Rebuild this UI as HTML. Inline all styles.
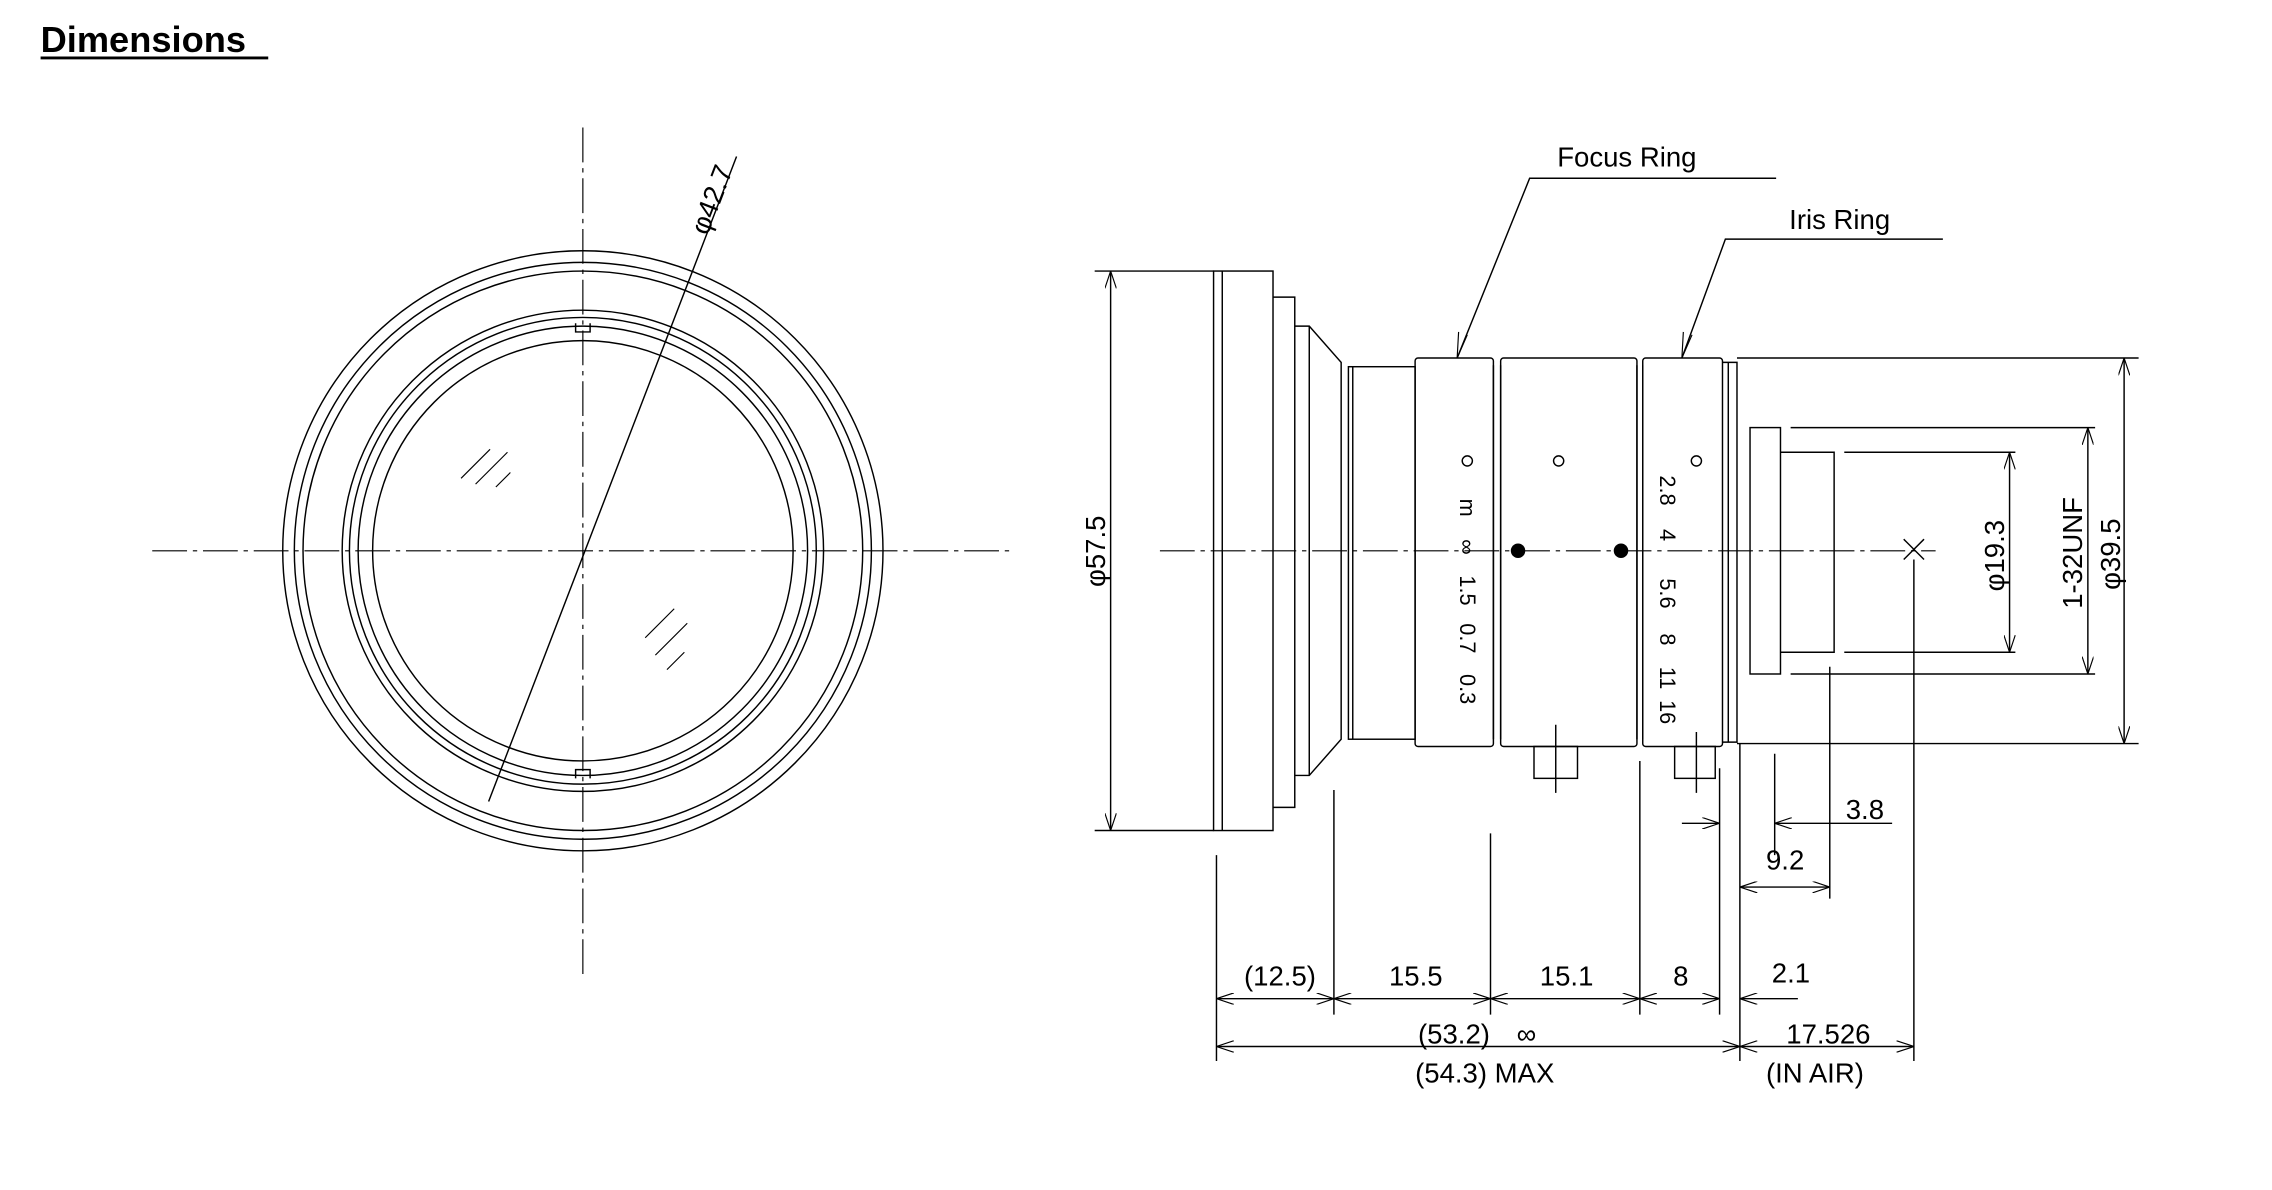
<!DOCTYPE html>
<html><head><meta charset="utf-8"><style>
html,body{margin:0;padding:0;background:#fff;}
svg{display:block}
text{font-family:"Liberation Sans",sans-serif;fill:#000}
.d{font-family:"Liberation Sans Narrow","Liberation Sans",sans-serif;font-size:19px}
</style></head><body>
<svg width="2272" height="1190" viewBox="0 0 1567 821" preserveAspectRatio="none" xmlns="http://www.w3.org/2000/svg">
<defs><marker id="a" viewBox="0 0 12 8" refX="12" refY="4" markerWidth="12" markerHeight="8" orient="auto-start-reverse" markerUnits="userSpaceOnUse"><path d="M0,0 L12,4 L0,8" fill="none" stroke="#000" stroke-width="0.8"/></marker></defs>
<text x="28" y="36" font-size="25" font-weight="bold">Dimensions</text>
<line x1="28" y1="40" x2="185" y2="40" stroke="#000" stroke-width="2"/>
<g fill="none" stroke="#000" stroke-width="1">
<circle cx="402" cy="380" r="207"/><circle cx="402" cy="380" r="199"/><circle cx="402" cy="380" r="193"/>
<circle cx="402" cy="380" r="166"/><circle cx="402" cy="380" r="161"/><circle cx="402" cy="380" r="155"/><circle cx="402" cy="380" r="145"/>
<path d="M397,223v6h10v-6M397,537v-6h10v6"/>
<path d="M318,330l20,-20M328,334l22,-22M342,336l10,-10M445,440l20,-20M452,452l22,-22M460,462l12,-12" stroke-width="0.8"/>
<path d="M105,380H700M402,88V672" stroke-dasharray="24,4,3,4" stroke-width="0.8"/>
<line x1="337" y1="553" x2="508" y2="108"/>
<rect x="837" y="187" width="41" height="386"/><line x1="843" y1="187" x2="843" y2="573"/>
<path d="M878,205H893V557H878M893,225H903L925,250V510L903,535H893M903,225V535"/>
<rect x="930" y="253" width="46" height="257"/><line x1="933" y1="253" x2="933" y2="510"/>
<rect x="976" y="247" width="54" height="268" rx="2"/>
<path d="M1030,252V510M1035,252V510"/>
<rect x="1035" y="247" width="94" height="268" rx="2"/>
<path d="M1129,252V510M1133,252V510"/>
<rect x="1133" y="247" width="55" height="268" rx="2"/>
<path d="M1188,250H1198V512H1188M1192,250V512M1198,247H1475M1198,513H1475"/>
<rect x="1207" y="295" width="21" height="170"/><path d="M1228,312H1265V450H1228"/>
<path d="M1235,295H1445M1235,465H1445M1272,312H1390M1272,450H1390"/>
<rect x="1058" y="515" width="30" height="22"/><rect x="1155" y="515" width="28" height="22"/>
<path d="M1073,500V547M1170,505V547"/>
<path d="M800,380H1335" stroke-dasharray="24,4,3,4" stroke-width="0.8"/>
<path d="M1313,372l14,14M1327,372l-14,14M1320,386V732"/>
<path d="M1225,123H1055L1005,247M1340,165H1190L1160,247"/>
<path d="M1005,247l1,-18M1005,247l7,-16M1160,247l1,-18M1160,247l7,-16" stroke-width="0.8"/>
<line x1="766" y1="187" x2="766" y2="573" marker-start="url(#a)" marker-end="url(#a)"/>
<path d="M755,187H837M755,573H837"/>
<line x1="1465" y1="247" x2="1465" y2="513" marker-start="url(#a)" marker-end="url(#a)"/>
<line x1="1440" y1="295" x2="1440" y2="465" marker-start="url(#a)" marker-end="url(#a)"/>
<line x1="1386" y1="312" x2="1386" y2="450" marker-start="url(#a)" marker-end="url(#a)"/>
<path d="M839,590V732M920,545V700M1028,575V700M1131,525V700M1186,530V700M1200,513V732M1224,520V590M1262,460V620"/>
<line x1="839" y1="689" x2="920" y2="689" marker-start="url(#a)" marker-end="url(#a)"/>
<line x1="920" y1="689" x2="1028" y2="689" marker-start="url(#a)" marker-end="url(#a)"/>
<line x1="1028" y1="689" x2="1131" y2="689" marker-start="url(#a)" marker-end="url(#a)"/>
<line x1="1131" y1="689" x2="1186" y2="689" marker-start="url(#a)" marker-end="url(#a)"/>
<line x1="1240" y1="689" x2="1200" y2="689" marker-end="url(#a)"/>
<line x1="839" y1="722" x2="1200" y2="722" marker-start="url(#a)" marker-end="url(#a)"/>
<line x1="1200" y1="722" x2="1320" y2="722" marker-start="url(#a)" marker-end="url(#a)"/>
<line x1="1160" y1="568" x2="1186" y2="568" marker-end="url(#a)"/>
<line x1="1305" y1="568" x2="1224" y2="568" marker-end="url(#a)"/>
<line x1="1200" y1="612" x2="1262" y2="612" marker-start="url(#a)" marker-end="url(#a)"/>
</g>
<circle cx="1047" cy="380" r="5"/><circle cx="1118" cy="380" r="5"/>
<circle cx="1012" cy="318" r="3.5" fill="none" stroke="#000"/><circle cx="1075" cy="318" r="3.5" fill="none" stroke="#000"/><circle cx="1170" cy="318" r="3.5" fill="none" stroke="#000"/>
<g class="d">
<text x="1074" y="115">Focus Ring</text>
<text x="1234" y="158">Iris Ring</text>
<text transform="translate(488,163) rotate(-69)">φ42.7</text>
<text transform="translate(762,405) rotate(-90)">φ57.5</text>
<text transform="translate(1462,407) rotate(-90)">φ39.5</text>
<text transform="translate(1436,420) rotate(-90)">1-32UNF</text>
<text transform="translate(1382,408) rotate(-90)">φ19.3</text>
<g font-size="15">
<text transform="translate(1007,344) rotate(90)">m</text>
<text transform="translate(1007,372) rotate(90)">∞</text>
<text transform="translate(1007,397) rotate(90)">1.5</text>
<text transform="translate(1007,430) rotate(90)">0.7</text>
<text transform="translate(1007,465) rotate(90)">0.3</text>
<text transform="translate(1145,328) rotate(90)">2.8</text>
<text transform="translate(1145,365) rotate(90)">4</text>
<text transform="translate(1145,399) rotate(90)">5.6</text>
<text transform="translate(1145,437) rotate(90)">8</text>
<text transform="translate(1145,460) rotate(90)">11</text>
<text transform="translate(1145,483) rotate(90)">16</text>
</g>
<text x="858" y="680">(12.5)</text>
<text x="958" y="680">15.5</text>
<text x="1062" y="680">15.1</text>
<text x="1154" y="680">8</text>
<text x="1222" y="678">2.1</text>
<text x="978" y="720">(53.2)</text><text x="1046" y="720">∞</text>
<text x="976" y="747">(54.3)  MAX</text>
<text x="1232" y="720">17.526</text>
<text x="1218" y="747">(IN AIR)</text>
<text x="1273" y="565">3.8</text>
<text x="1218" y="600">9.2</text>
</g>
</svg>
</body></html>
